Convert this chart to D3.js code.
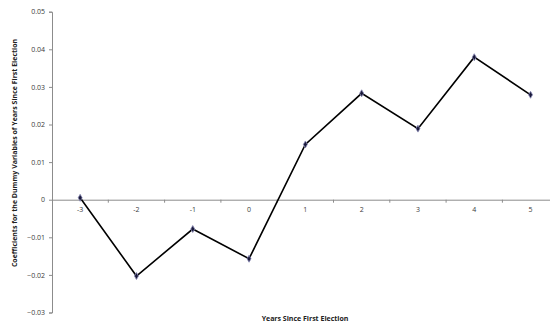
<!DOCTYPE html>
<html>
<head>
<meta charset="utf-8">
<script src="https://cdn.jsdelivr.net/npm/d3@7"></script>
<style>
  html, body { margin: 0; padding: 0; background: #fff; }
  svg { display: block; }
  text { font-family: "Open Sans", "DejaVu Sans", sans-serif; }
</style>
</head>
<body>
<div id="chart"></div>
<script>
// Years relative to the first election and the estimated coefficients
const years = ["-3", "-2", "-1", "0", "1", "2", "3", "4", "5"];
const coefficients = [0.0005, -0.0203, -0.0078, -0.0157, 0.0147, 0.0283, 0.0189, 0.0379, 0.0279];
const yTicks = [0.05, 0.04, 0.03, 0.02, 0.01, 0, -0.01, -0.02, -0.03];
const xTitle = "Years Since First Election";
const yTitle = "Coefficients for the Dummy Variables of Years Since First Election";

const width = 550, height = 328;
const svg = d3.select("#chart").append("svg")
  .attr("width", width).attr("height", height);

const x = d3.scaleBand().domain(years).range([52, 558.7]);
const y = d3.scaleLinear().domain([-0.03, 0.05]).range([312.5, 11.7]);

const axisColor = "#8c8c8c";
const labelColor = "#3a3a3a";

// Vertical axis on the left
const yAxis = svg.append("g").attr("transform", "translate(52,0)")
  .call(d3.axisLeft(y).tickValues(yTicks).tickSize(3).tickPadding(4)
    .tickFormat(d => d === 0 ? "0" : d3.format(".2f")(d)));
yAxis.select(".domain").attr("stroke", axisColor);
yAxis.selectAll(".tick line").attr("stroke", axisColor);
yAxis.selectAll(".tick text").style("fill", labelColor).style("font-size", "7px");

// Horizontal axis through zero, ticks between categories
const xAxis = svg.append("g").attr("transform", `translate(0,${y(0)})`)
  .call(d3.axisBottom(x).tickSize(0).tickPadding(7));
xAxis.select(".domain").attr("stroke", axisColor);
xAxis.selectAll(".tick text").style("fill", labelColor).style("font-size", "7px");
xAxis.selectAll(".sep").data(years.slice(1)).enter().append("line")
  .attr("class", "sep")
  .attr("x1", d => x(d)).attr("x2", d => x(d))
  .attr("y1", 0).attr("y2", 3)
  .attr("stroke", axisColor);

// Coefficient line
const line = d3.line()
  .x((d, i) => x(years[i]) + x.bandwidth() / 2)
  .y(d => y(d));
svg.append("path").datum(coefficients)
  .attr("d", line)
  .attr("fill", "none")
  .attr("stroke", "#000")
  .attr("stroke-width", 1.6)
  .attr("stroke-linejoin", "miter");

// Diamond markers
const diamond = d3.symbol().type(d3.symbolDiamond).size(14);
svg.selectAll(".pt").data(coefficients).enter().append("path")
  .attr("class", "pt")
  .attr("d", diamond)
  .attr("transform", (d, i) => `translate(${x(years[i]) + x.bandwidth() / 2},${y(d)})`)
  .attr("fill", "#1a1a3a")
  .attr("stroke", "#8a8ab8")
  .attr("stroke-width", 0.8);

// Axis titles
svg.append("text")
  .attr("x", 305).attr("y", 321)
  .attr("text-anchor", "middle")
  .style("fill", "#222")
  .style("font-size", "7px").style("font-weight", "bold")
  .text(xTitle);

svg.append("text")
  .attr("transform", "translate(17,153) rotate(-90)")
  .attr("text-anchor", "middle")
  .style("fill", "#222")
  .style("font-size", "7px").style("font-weight", "bold")
  .text(yTitle);
</script>
</body>
</html>
